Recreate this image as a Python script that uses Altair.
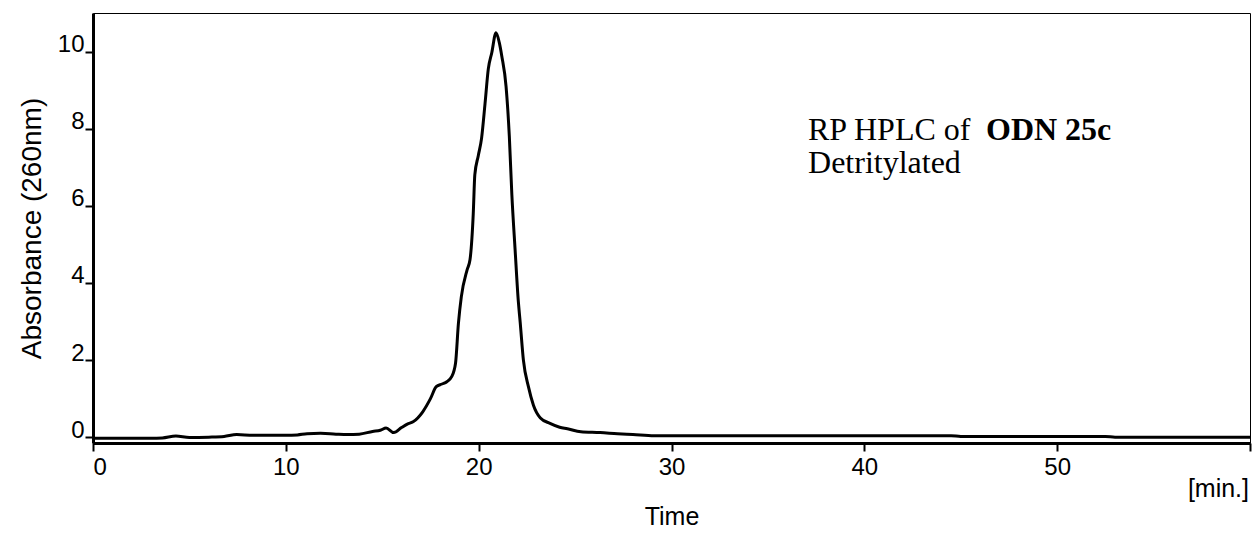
import altair as alt
import pandas as pd

# Chromatogram trace (time in min, absorbance at 260 nm)
time_min = [0, 1, 2, 3, 3.6, 4.3, 5.0, 6.0, 6.8, 7.45, 8.3, 9.0, 10.0, 10.6, 11.1,
            11.8, 12.6, 13.2, 13.8, 14.5, 14.9, 15.2, 15.6, 16.0, 16.3, 16.6, 17.1,
            17.5, 17.8, 18.1, 18.35, 18.6, 18.8, 18.95, 19.1, 19.4, 19.55, 19.72,
            19.8, 19.98, 20.15, 20.33, 20.5, 20.68, 20.9, 21.07, 21.2, 21.42, 21.59,
            21.72, 21.89, 22.06, 22.15, 22.32, 22.58, 22.84, 23.2, 23.7, 24.2, 24.6,
            25.3, 26.3, 27.2, 28.0, 29.1, 35.0, 44.5, 45.0, 52.5, 53.0, 60.0]
absorbance = [-0.03, -0.03, -0.03, -0.03, -0.02, 0.03, -0.01, 0.0, 0.02, 0.07, 0.05,
              0.05, 0.05, 0.06, 0.09, 0.1, 0.08, 0.07, 0.08, 0.15, 0.18, 0.24, 0.12,
              0.25, 0.34, 0.40, 0.66, 1.0, 1.31, 1.38, 1.44, 1.57, 1.92, 2.95, 3.64,
              4.34, 4.6, 5.8, 6.8, 7.3, 7.75, 8.65, 9.55, 9.97, 10.49, 10.23, 9.88,
              9.1, 7.8, 6.3, 4.86, 3.5, 3.0, 2.0, 1.31, 0.83, 0.5, 0.36, 0.26, 0.22,
              0.14, 0.12, 0.09, 0.07, 0.04, 0.04, 0.04, 0.02, 0.02, 0.0, 0.0]

x_ticks = [0, 10, 20, 30, 40, 50, 60]
y_ticks = [0, 2, 4, 6, 8, 10]

note_normal = ["RP HPLC of ", "Detritylated"]
note_normal_x = [37.08, 37.08]
note_normal_y = [7.71, 6.85]
note_bold = ["ODN 25c"]
note_bold_x = [46.31]
note_bold_y = [7.71]

trace = pd.DataFrame({"t": time_min, "a": absorbance})
notes = pd.DataFrame({"t": note_normal_x, "a": note_normal_y, "txt": note_normal})
notes_b = pd.DataFrame({"t": note_bold_x, "a": note_bold_y, "txt": note_bold})

SANS = "Liberation Sans"
SERIF = "Liberation Serif"

xscale = alt.Scale(domain=[0, 60], nice=False, zero=False)
yscale = alt.Scale(domain=[-0.15, 11], nice=False, zero=False)

line = alt.Chart(trace).mark_line(color="black", strokeWidth=3, interpolate="monotone").encode(
    x=alt.X("t:Q", scale=xscale, title="Time",
            axis=alt.Axis(values=x_ticks, labelExpr="datum.value == 60 ? '' : datum.label",
                          grid=False, domainColor="black", domainWidth=3, tickColor="black",
                          tickWidth=2, tickSize=8, labelFont=SANS, labelFontSize=24,
                          labelColor="black", labelPadding=4, titleFont=SANS,
                          titleFontSize=25, titleFontWeight="normal", titleColor="black",
                          titlePadding=25)),
    y=alt.Y("a:Q", scale=yscale, title="Absorbance (260nm)",
            axis=alt.Axis(values=y_ticks, grid=False, domainColor="black", domainWidth=3,
                          tickColor="black", tickWidth=2, tickSize=8, labelFont=SANS,
                          labelFontSize=24, labelColor="black", labelPadding=1,
                          labelBaseline="alphabetic", titleFont=SANS, titleFontSize=28,
                          titleFontWeight="normal", titleColor="black", titlePadding=11)),
)

txt = alt.Chart(notes).mark_text(font=SERIF, fontSize=32, align="left",
                                 baseline="alphabetic", color="black").encode(
    x=alt.X("t:Q", scale=xscale), y=alt.Y("a:Q", scale=yscale), text="txt:N")
txt_b = alt.Chart(notes_b).mark_text(font=SERIF, fontSize=32, fontWeight="bold",
                                     align="left", baseline="alphabetic",
                                     color="black").encode(
    x=alt.X("t:Q", scale=xscale), y=alt.Y("a:Q", scale=yscale), text="txt:N")

unit = alt.Chart(pd.DataFrame({"u": ["[min.]"]})).mark_text(
    font=SANS, fontSize=25, align="right", baseline="alphabetic", color="black").encode(
    x=alt.value(1156), y=alt.value(484), text="u:N")

chart = alt.layer(line, txt, txt_b, unit).properties(
    width=1157, height=430,
    autosize=alt.AutoSizeParams(type="none"),
    padding={"left": 93, "top": 13, "right": 4, "bottom": 93},
    background="white",
).configure_view(stroke="black", strokeWidth=1)

chart.save("out.html", embed_options={"renderer": "svg", "actions": False})
